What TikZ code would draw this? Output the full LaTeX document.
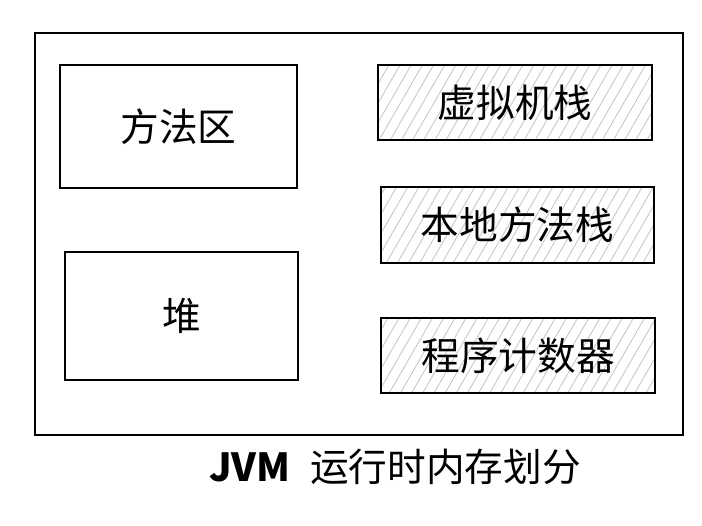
\documentclass[tikz,border=0pt]{standalone}
\usepackage{fontspec}
\setmainfont{Noto Sans CJK SC}
\usetikzlibrary{patterns.meta}

\tikzset{
	area/.style={draw, line width=1.3pt, inner sep=0pt},
	hatched/.style={area, pattern={Lines[angle=60,distance=5.5pt,line width=0.5pt]}, pattern color=black!22},
	label/.style={font=\fontsize{22}{26}\selectfont}
}

\begin{document}
\begin{tikzpicture}
	\useasboundingbox (0,0) rectangle (14.04,10.52);

	\node[area, minimum width=12.96cm, minimum height=8.04cm] (jvm) at (7.18,5.84) {};

	\node[area, label, minimum width=4.74cm, minimum height=2.46cm] (method) at (3.57,7.99) {方法区};
	\node[area, label, minimum width=4.66cm, minimum height=2.56cm] (heap) at (3.63,4.2) {堆};

	\node[hatched, label, minimum width=5.48cm, minimum height=1.5cm] (vmstack) at (10.3,8.47) {虚拟机栈};
	\node[hatched, label, minimum width=5.46cm, minimum height=1.52cm] (native) at (10.35,6.02) {本地方法栈};
	\node[hatched, label, minimum width=5.48cm, minimum height=1.5cm] (pc) at (10.36,3.41) {程序计数器};

	\node[label] (caption) at (7.9,1.18) {\textbf{JVM}\hspace{0.5em}运行时内存划分};
\end{tikzpicture}
\end{document}
